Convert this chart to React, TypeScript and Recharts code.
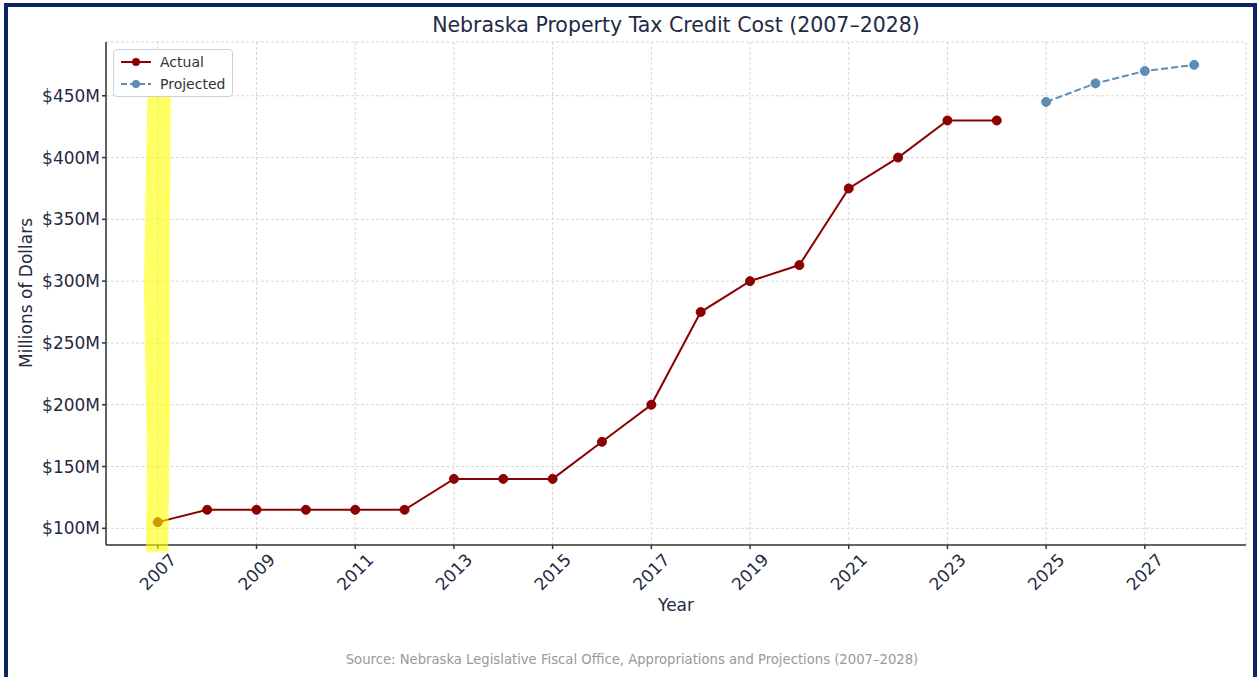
import React from 'react';
import { LineChart, Line, XAxis, YAxis, CartesianGrid, ReferenceArea } from 'recharts';

const actualYears = [2007, 2008, 2009, 2010, 2011, 2012, 2013, 2014, 2015, 2016, 2017, 2018, 2019, 2020, 2021, 2022, 2023, 2024];
const actualCost = [105, 115, 115, 115, 115, 115, 140, 140, 140, 170, 200, 275, 300, 313, 375, 400, 430, 430];
const projectedYears = [2025, 2026, 2027, 2028];
const projectedCost = [445, 460, 470, 475];
const xTicks = [2007, 2009, 2011, 2013, 2015, 2017, 2019, 2021, 2023, 2025, 2027];
const yTicks = [100, 150, 200, 250, 300, 350, 400, 450];

const data = [
  ...actualYears.map((year, i) => ({ year, actual: actualCost[i], projected: null as number | null })),
  ...projectedYears.map((year, i) => ({ year, actual: null as number | null, projected: projectedCost[i] })),
];

const FONT = '"DejaVu Sans", sans-serif';
const INK = '#1f2a44';
const RED = '#8b0000';
const BLUE = '#5b8db6';

const XTick = ({ x, y, payload }: any) => (
  <g transform={`translate(${x},${y + 21})`}>
    <text transform="rotate(-45)" textAnchor="middle" dominantBaseline="central" fill={INK} fontSize={17} fontFamily={FONT}>
      {payload.value}
    </text>
  </g>
);

// hand-drawn highlighter stroke over 2007
const Highlight = ({ x, y, width, height }: any) => {
  const w = width;
  const h = height;
  const pts = [
    [x + 1, y], [x + w, y], [x + w - 0.5, y + 0.12 * h], [x + w - 1.5, y + 0.4 * h],
    [x + w - 1, y + 0.7 * h], [x + w - 3, y + h], [x - 1, y + h], [x, y + 0.8 * h],
    [x - 3, y + 0.45 * h], [x - 1, y + 0.2 * h],
  ];
  return <polygon points={pts.map((p) => p.join(',')).join(' ')} fill="#ffff00" fillOpacity={0.6} />;
};

const LegendBox = () => (
  <div
    style={{
      position: 'absolute', left: 113, top: 49, width: 118, height: 46, background: '#fff',
      border: '1px solid #d0d0d0', borderRadius: 4, fontFamily: FONT, fontSize: 14, color: '#333',
    }}
  >
    {[{ name: 'Actual', color: RED, dash: undefined }, { name: 'Projected', color: BLUE, dash: '6 3' }].map((it, i) => (
      <div key={it.name} style={{ position: 'absolute', left: 6, top: 2 + i * 22, height: 20, display: 'flex', alignItems: 'center' }}>
        <svg width={32} height={12}>
          <line x1={1} y1={6} x2={31} y2={6} stroke={it.color} strokeWidth={2} strokeDasharray={it.dash} />
          <circle cx={16} cy={6} r={4} fill={it.color} />
        </svg>
        <span style={{ marginLeft: 8 }}>{it.name}</span>
      </div>
    ))}
  </div>
);

export default function App() {
  return (
    <div style={{ position: 'fixed', left: 0, top: 0, width: 1257, height: 677, background: '#fff', overflow: 'hidden' }}>
      <div style={{ position: 'absolute', left: 4, top: 3, width: 1245, height: 720, border: '4px solid #0b2463' }} />
      <div style={{ position: 'absolute', left: 0, top: 0 }}>
        <LineChart width={1257} height={677} data={data} margin={{ top: 42, right: 11, left: 26, bottom: 32 }}>
          <CartesianGrid stroke="#d8d8d8" strokeDasharray="3 2" />
          <XAxis
            dataKey="year"
            type="number"
            domain={[2005.95, 2029.05]}
            ticks={xTicks}
            height={100}
            tick={<XTick />}
            tickSize={4}
            stroke="#333"
            strokeWidth={1.5}
          />
          <YAxis
            type="number"
            domain={[86.5, 493.5]}
            ticks={yTicks}
            width={80}
            tickSize={4}
            tickMargin={2}
            tickFormatter={(v: number) => `$${v}M`}
            tick={{ fill: INK, fontSize: 17, fontFamily: FONT }}
            stroke="#333"
            strokeWidth={1.5}
          />
          <Line
            dataKey="actual"
            stroke={RED}
            strokeWidth={2}
            dot={{ r: 4.5, fill: RED, stroke: RED, strokeWidth: 1 }}
            connectNulls={false}
            isAnimationActive={false}
          />
          <Line
            dataKey="projected"
            stroke={BLUE}
            strokeWidth={2}
            strokeDasharray="7 3"
            dot={{ r: 4.5, fill: BLUE, stroke: BLUE, strokeWidth: 1, strokeDasharray: '' }}
            connectNulls={false}
            isAnimationActive={false}
          />
          <ReferenceArea
            x1={2006.78}
            x2={2007.27}
            y1={81}
            y2={470}
            ifOverflow="visible"
            shape={<Highlight />}
            zIndex={1500}
          />
        </LineChart>
      </div>
      <LegendBox />
      <div style={{ position: 'absolute', left: 176, width: 1000, top: 13, textAlign: 'center', fontFamily: FONT, fontSize: 20.5, color: INK }}>
        Nebraska Property Tax Credit Cost (2007–2028)
      </div>
      <div
        style={{
          position: 'absolute', left: 26, top: 293, transform: 'translate(-50%, -50%) rotate(-90deg)',
          whiteSpace: 'nowrap', fontFamily: FONT, fontSize: 17, color: INK,
        }}
      >
        Millions of Dollars
      </div>
      <div style={{ position: 'absolute', left: 576, width: 200, top: 595, textAlign: 'center', fontFamily: FONT, fontSize: 17, color: INK }}>
        Year
      </div>
      <div style={{ position: 'absolute', left: 132, width: 1000, top: 652, textAlign: 'center', fontFamily: FONT, fontSize: 13.2, color: '#999' }}>
        Source: Nebraska Legislative Fiscal Office, Appropriations and Projections (2007–2028)
      </div>
    </div>
  );
}
